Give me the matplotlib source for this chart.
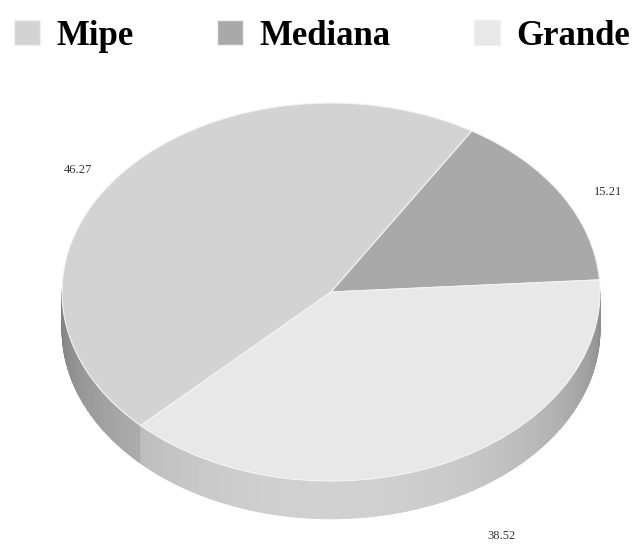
import numpy as np
import matplotlib
matplotlib.use("Agg")
import matplotlib.pyplot as plt
from matplotlib.patches import Patch

categories = ["Mipe", "Mediana", "Grande"]
values = [46.27, 15.21, 38.52]
value_labels = ["46.27", "15.21", "38.52"]
top_colors = ["#d3d3d3", "#a9a9aa", "#e8e8e9"]

START = 225.0      # degrees, slices go clockwise
DEPTH = 0.2        # thickness of the disc, in y data units
# label placement tweaks (x, y) in data units
label_nudge = [(0.0, -0.1), (0.0, -0.09), (0.14, 0.0)]


def shade(hex_color, f):
    rgb = np.array(matplotlib.colors.to_rgb(hex_color))
    return tuple(np.clip(rgb * f, 0, 1))


fig = plt.figure(figsize=(6.34, 5.47), dpi=100)
ax = fig.add_axes([0, 0, 1, 1])

# slice boundaries (degrees, clockwise from START)
fracs = np.array(values) / np.sum(values)
bounds = START - 360 * np.concatenate([[0], np.cumsum(fracs)])

# side wall: only the front half (180..360 deg) is visible
for i, col in enumerate(top_colors):
    a_hi, a_lo = bounds[i], bounds[i + 1]
    angs = np.linspace(a_lo, a_hi, 240)
    for a0, a1 in zip(angs[:-1], angs[1:]):
        am = (a0 + a1) / 2 % 360
        if am < 180:
            continue
        f = 0.6 + 0.3 * np.cos(np.radians(am - 270))
        t = np.radians(np.linspace(a0, a1, 4))
        xs = np.concatenate([np.cos(t), np.cos(t[::-1])])
        ys = np.concatenate([np.sin(t), np.sin(t[::-1]) - DEPTH])
        ax.fill(xs, ys, color=shade(col, f), lw=0.6, ec=shade(col, f), zorder=1)

wedges, _ = ax.pie(values, colors=top_colors, startangle=START, counterclock=False,
                   wedgeprops=dict(edgecolor="#f4f4f4", linewidth=0.8))
for w in wedges:
    w.set_zorder(2)

# value labels
for i, lab in enumerate(value_labels):
    mid = np.radians((bounds[i] + bounds[i + 1]) / 2)
    r = 1.2
    x, y = r * np.cos(mid), r * np.sin(mid)
    if y < 0:
        y -= DEPTH
    x += label_nudge[i][0]
    y += label_nudge[i][1]
    ax.text(x, y, lab, ha="center", va="center", fontsize=9,
            family="Liberation Serif", color="#333333")

ax.set_aspect("auto")
ax.set_xlim(-331 / 269, (634 - 331) / 269)
ax.set_ylim(-255 / 189, 292 / 189)
ax.axis("off")

handles = [Patch(facecolor=c, edgecolor="#f0f0f0") for c in top_colors]
fig.legend(handles, categories, loc="upper left", bbox_to_anchor=(-0.022, 1.015),
           ncol=3, frameon=False, handlelength=0.75, handleheight=0.75,
           handletextpad=0.47, columnspacing=2.4, borderpad=0.3,
           prop=dict(family="Liberation Serif", weight="bold", size=25))

fig.savefig("out.png", dpi=100)
